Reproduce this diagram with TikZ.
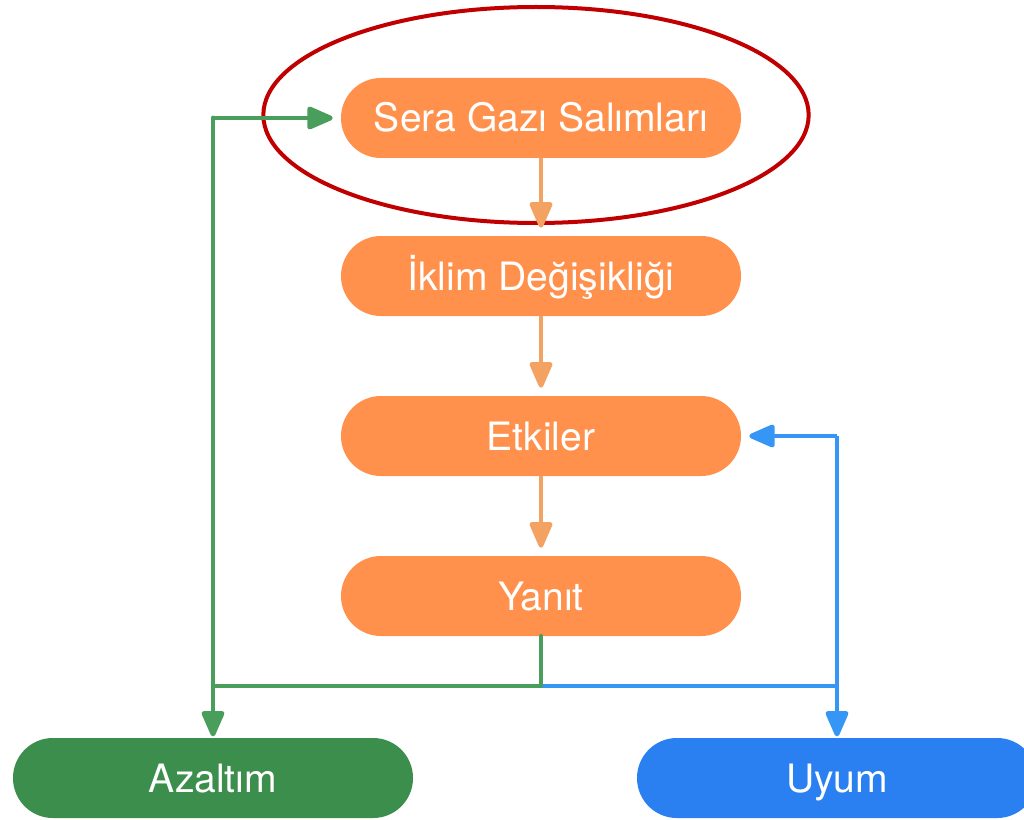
\documentclass[tikz,border=0pt]{standalone}
\usepackage{fontspec}
\setmainfont{TeX Gyre Heros}
\usetikzlibrary{arrows.meta,shapes.geometric}
\definecolor{boxorange}{HTML}{FF914D}
\definecolor{arrorange}{HTML}{F4A261}
\definecolor{lgreen}{HTML}{4A9E5C}
\definecolor{bgreen}{HTML}{3B8E4B}
\definecolor{lblue}{HTML}{3696F5}
\definecolor{bblue}{HTML}{2A80F0}
\definecolor{ringred}{HTML}{C00000}
\tikzset{
  pill/.style={draw=none, rounded corners=29.9pt, minimum width=300pt, minimum height=60pt,
    text=white, font=\fontsize{29.3}{32}\selectfont, inner sep=0pt,
    text height=21pt, text depth=0pt},
  obox/.style={pill, fill=boxorange},
  tip/.style={-{Triangle[width=18pt,length=22pt,round]}},
  oarr/.style={tip, draw=arrorange, line width=3.4pt, shorten >=6pt},
  garr/.style={draw=lgreen, line width=3.6pt},
  barr/.style={draw=lblue, line width=3.6pt},
}
\begin{document}
\begin{tikzpicture}[x=0.75pt,y=-0.75pt]
\clip (0,0) rectangle (1024,820);
\useasboundingbox (0,0) rectangle (1024,820);
\node[obox] (sera) at (541,118) {Sera Gazı Salımları};
\node[obox] (iklim) at (541,276) {İklim Değişikliği};
\node[obox] (etki) at (541,436) {Etkiler};
\node[obox] (yanit) at (541,596) {Yanıt};
\node[pill, fill=bgreen] (azal) at (213,778) {Azaltım};
\node[pill, fill=bblue] (uyum) at (837,778) {Uyum};
\node[draw=ringred, line width=3pt, ellipse, minimum width=409pt, minimum height=162pt, inner sep=0pt] (ring) at (536,115) {};
\draw[oarr] (sera) -- (iklim);
\draw[oarr] (iklim) -- (etki);
\draw[oarr] (etki) -- (yanit);
\coordinate (split) at (541,686);
\coordinate (gl) at (213,686);
\coordinate (gt) at (213,118);
\coordinate (br) at (837,686);
\coordinate (bt) at (837,436);
\draw[barr, line join=round] (split) -- (br) -- (bt);
\draw[barr, tip, shorten >=6pt] (bt) -- (etki.east);
\draw[barr, tip, shorten >=1pt] (br) -- (uyum.north);
\draw[garr, line join=round, line cap=round] (yanit.south) -- (split) -- (gl) -- (gt);
\draw[garr, tip, shorten >=6pt] (gt) -- (sera.west);
\draw[garr, tip, shorten >=1pt] (gl) -- (azal.north);
\end{tikzpicture}
\end{document}
